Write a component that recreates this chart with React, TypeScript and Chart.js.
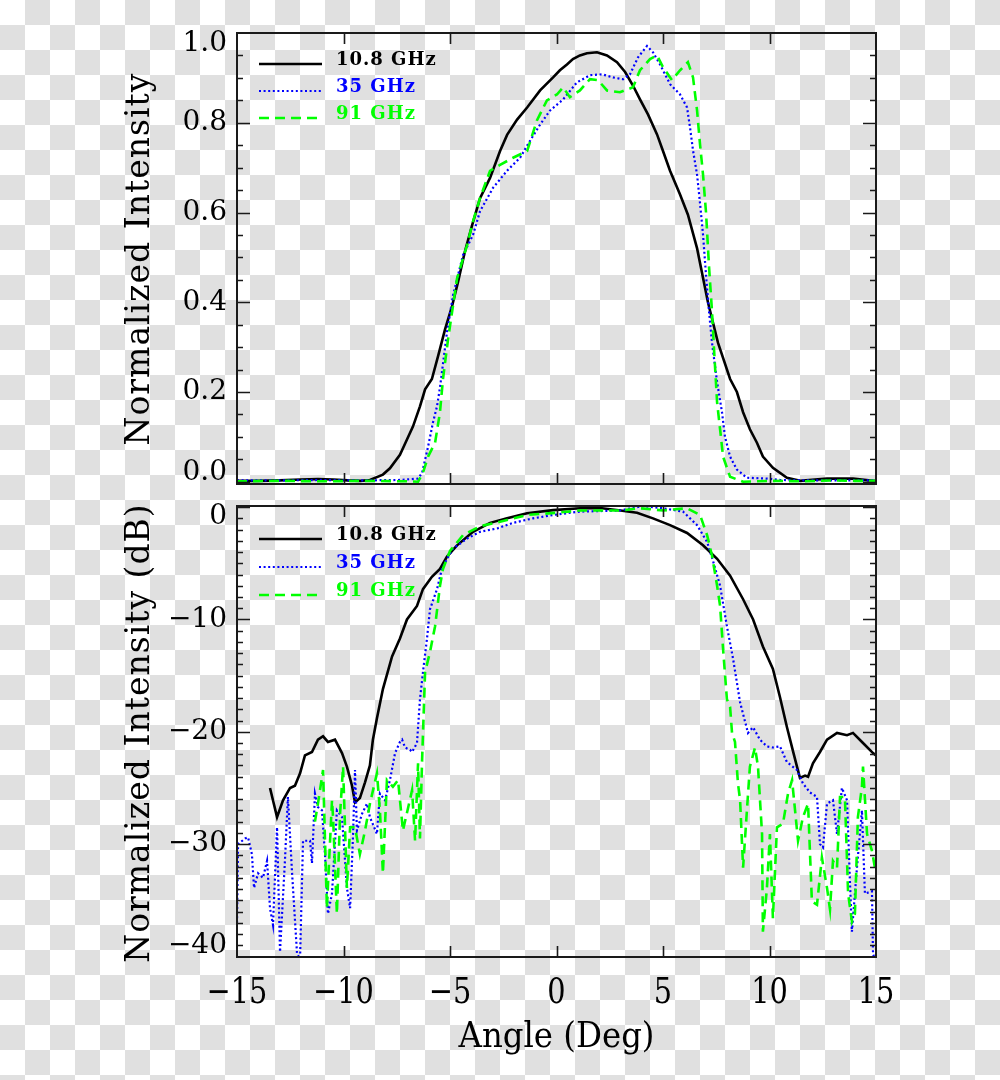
import React, { useEffect, useRef } from "react";
import { Chart, registerables } from "chart.js";
Chart.register(...registerables);

// ---------- axes ----------
const X_MIN = -15;
const X_MAX = 15;
const angleTicks = [-15, -10, -5, 0, 5, 10, 15];
const topTicks = [0, 0.2, 0.4, 0.6, 0.8, 1.0];
const dbTicks = [0, -10, -20, -30, -40];
const seriesLabels = ["10.8 GHz", "35 GHz", "91 GHz"];
const xTitle = "Angle (Deg)";
const topTitle = "Normalized Intensity";
const botTitle = "Normalized Intensity (dB)";

// ---------- top panel (linear) ----------
const top10Ang = [-15, -14, -13, -12, -11.2, -10.5, -9.8, -9.2, -8.76, -8.15, -7.82, -7.35, -7.02, -6.74, -6.41, -6.17, -5.85, -5.56, -5.23, -4.91, -4.62, -4.3, -3.97, -3.59, -3.12, -2.65, -2.32, -1.85, -1.38, -0.77, -0.16, 0.16, 0.49, 0.77, 1.1, 1.43, 1.9, 2.37, 2.84, 3.22, 3.59, 3.92, 4.3, 4.72, 5.0, 5.33, 5.8, 6.17, 6.6, 7.11, 7.58, 8.15, 8.47, 8.76, 9.08, 9.41, 9.69, 10.16, 10.82, 11.43, 12.7, 13.92, 14.86, 15];
const top10Val = [0.002, 0.002, 0.003, 0.005, 0.006, 0.005, 0.003, 0.002, 0.004, 0.016, 0.03, 0.06, 0.094, 0.123, 0.168, 0.206, 0.229, 0.28, 0.34, 0.39, 0.446, 0.513, 0.57, 0.632, 0.677, 0.737, 0.773, 0.807, 0.834, 0.872, 0.901, 0.917, 0.93, 0.942, 0.95, 0.955, 0.957, 0.95, 0.935, 0.913, 0.883, 0.852, 0.818, 0.774, 0.737, 0.693, 0.64, 0.595, 0.52, 0.4, 0.31, 0.229, 0.2, 0.155, 0.117, 0.087, 0.056, 0.031, 0.009, 0.002, 0.007, 0.007, 0.002, 0.002];

const top35Ang = [-15, -13, -11, -9, -7.35, -6.5, -6.31, -6.17, -6.03, -5.8, -5.61, -5.47, -5.14, -4.86, -4.39, -3.92, -3.59, -2.98, -2.32, -1.71, -1.24, -0.77, -0.31, 0.31, 0.96, 1.57, 2.14, 2.65, 3.12, 3.45, 3.83, 4.25, 4.53, 4.86, 5.33, 5.8, 6.13, 6.27, 6.41, 6.6, 6.74, 6.88, 7.02, 7.16, 7.3, 7.54, 7.77, 7.91, 8.15, 8.47, 8.94, 9.88, 10.49, 12, 13.5, 15];
const top35Val = [0.003, 0.003, 0.004, 0.003, 0.004, 0.007, 0.02, 0.049, 0.078, 0.132, 0.168, 0.21, 0.334, 0.415, 0.505, 0.55, 0.603, 0.655, 0.693, 0.722, 0.76, 0.796, 0.827, 0.852, 0.89, 0.906, 0.908, 0.901, 0.897, 0.908, 0.946, 0.971, 0.957, 0.93, 0.886, 0.863, 0.834, 0.789, 0.738, 0.684, 0.62, 0.55, 0.46, 0.38, 0.31, 0.222, 0.155, 0.1, 0.056, 0.027, 0.009, 0.007, 0.004, 0.003, 0.003, 0.003];

const top91Ang = [-15, -13, -11, -9, -7, -6.5, -6.27, -6.03, -5.7, -5.47, -5.33, -5.09, -4.67, -4.2, -3.92, -3.59, -3.12, -2.65, -2.04, -1.38, -0.92, -0.45, 0.02, 0.31, 0.63, 1.1, 1.57, 1.95, 2.37, 2.98, 3.59, 3.92, 4.39, 4.72, 5.0, 5.42, 5.8, 6.17, 6.41, 6.6, 6.74, 6.88, 7.02, 7.16, 7.3, 7.39, 7.54, 7.68, 7.82, 8.15, 8.76, 10, 11.5, 13, 14, 15];
const top91Val = [0.001, 0.002, 0.001, 0.002, 0.001, 0.0, 0.02, 0.056, 0.087, 0.155, 0.229, 0.318, 0.453, 0.527, 0.58, 0.632, 0.693, 0.706, 0.722, 0.737, 0.805, 0.85, 0.863, 0.879, 0.857, 0.872, 0.897, 0.895, 0.872, 0.868, 0.879, 0.917, 0.942, 0.95, 0.924, 0.895, 0.917, 0.935, 0.901, 0.827, 0.751, 0.684, 0.6, 0.48, 0.38, 0.3, 0.177, 0.117, 0.056, 0.011, 0.0, 0.002, 0.001, 0.003, 0.002, 0.002];

// ---------- bottom panel (dB) ----------
const db10Ang = [-13.45, -13.12, -12.84, -12.51, -12.28, -12.04, -11.81, -11.48, -11.2, -10.96, -10.73, -10.4, -10.07, -9.84, -9.6, -9.46, -9.23, -8.99, -8.76, -8.62, -8.43, -8.15, -7.72, -7.35, -7.02, -6.55, -6.27, -5.85, -5.47, -5.14, -4.67, -3.92, -3.12, -2.32, -1.38, -0.16, 1.1, 2.14, 3.0, 3.78, 4.53, 5.33, 6.13, 6.88, 7.54, 8.15, 8.76, 9.23, 9.69, 10.16, 10.49, 10.82, 11.1, 11.29, 11.43, 11.67, 11.81, 12.04, 12.37, 12.7, 13.17, 13.64, 13.92, 14.39, 14.86, 15];
const db10Val = [-25, -27.6, -26.1, -25, -24.8, -23.7, -22.1, -21.8, -20.7, -20.4, -20.9, -20.7, -21.9, -23.1, -24.8, -26.3, -25.9, -24.5, -23, -20.7, -18.8, -16.2, -13.3, -11.7, -10, -8.8, -7.3, -6.2, -5.5, -4.4, -3.4, -2.2, -1.4, -1, -0.54, -0.27, -0.1, -0.1, -0.3, -0.5, -1, -1.6, -2.3, -3.4, -4.6, -6.1, -8.2, -10, -12.4, -14.4, -16.9, -19.6, -21.7, -23.1, -24.1, -23.9, -24, -22.8, -21.8, -20.7, -20.1, -20.3, -20.1, -21, -21.9, -22.1];

const db35Ang = [-15, -14.95, -14.62, -14.48, -14.3, -14.2, -14.01, -13.78, -13.59, -13.45, -13.31, -13.12, -12.98, -12.75, -12.61, -12.42, -12.18, -12.04, -11.9, -11.57, -11.48, -11.34, -11.2, -11.01, -10.87, -10.73, -10.54, -10.31, -10.07, -9.84, -9.69, -9.55, -9.46, -9.37, -9.13, -8.9, -8.76, -8.43, -8.29, -8.05, -7.82, -7.58, -7.35, -7.25, -7.11, -6.88, -6.78, -6.55, -6.41, -6.27, -6.08, -5.94, -5.61, -5.38, -5.14, -4.86, -4.2, -3.59, -2.79, -2.04, -1.1, -0.16, 1.1, 2.98, 4.06, 5.0, 5.94, 6.6, 7.07, 7.35, 7.68, 8.0, 8.29, 8.62, 8.99, 9.23, 9.55, 9.88, 10.16, 10.49, 10.82, 11.29, 11.57, 11.9, 12.23, 12.37, 12.51, 12.7, 12.98, 13.17, 13.4, 13.64, 13.78, 13.87, 14.11, 14.34, 14.48, 14.81, 14.86, 14.95, 15];
const db35Val = [-37, -30, -29.5, -29.4, -30.9, -33.9, -32.6, -33, -31.5, -35.7, -37.2, -28.5, -39.6, -31.5, -25.8, -32.4, -39.8, -40.2, -29.7, -29.7, -31.7, -25.5, -26.7, -27, -30.9, -36.2, -34.4, -27, -27.6, -33.9, -35.7, -29.1, -23.4, -28.8, -27.3, -26.4, -27.6, -29.1, -25.5, -26.1, -24.3, -21.9, -20.9, -20.7, -21.4, -21.6, -21.8, -21.0, -17.1, -14.7, -11.7, -9.1, -7.3, -5.5, -4.6, -3.7, -2.8, -2.2, -1.9, -1.4, -1.0, -0.7, -0.4, -0.3, 0.1, -0.1, -0.4, -1.6, -3.1, -4.8, -7.0, -10.6, -13.5, -17.4, -20.1, -19.6, -20.7, -21.3, -21.4, -21.3, -22.7, -23.4, -24.6, -25.4, -25.8, -30.0, -30.3, -26.4, -26.1, -29.1, -25.0, -26.1, -33.5, -37.8, -32.0, -27.0, -34.4, -34.2, -39.8, -40.2, -41];

const db91Ang = [-11.34, -11.2, -10.96, -10.78, -10.54, -10.49, -10.31, -10.16, -10.02, -9.84, -9.69, -9.46, -9.23, -8.99, -8.76, -8.43, -8.29, -8.15, -7.96, -7.68, -7.44, -7.21, -6.78, -6.64, -6.5, -6.41, -6.31, -6.17, -5.94, -5.7, -5.47, -5.33, -5.0, -4.39, -3.59, -2.65, -1.38, 0.02, 1.1, 3.0, 3.92, 5.0, 6.13, 6.74, 7.07, 7.3, 7.54, 7.68, 7.82, 8.0, 8.15, 8.24, 8.38, 8.52, 8.62, 8.76, 8.94, 9.08, 9.32, 9.46, 9.65, 9.69, 9.88, 10.02, 10.16, 10.35, 10.63, 10.87, 11.06, 11.34, 11.57, 11.81, 11.99, 12.23, 12.46, 12.7, 12.84, 12.98, 13.17, 13.31, 13.54, 13.69, 13.87, 14.01, 14.15, 14.34, 14.39, 14.58, 14.81, 14.95];
const db91Val = [-28, -26.4, -23.4, -35.7, -26.1, -27.6, -36.2, -27.3, -23.1, -33.9, -28.5, -28.5, -30.9, -28.8, -26.4, -23.7, -27, -32.6, -24.3, -24.9, -24.3, -28.8, -25.2, -29.7, -22.8, -29.5, -22.5, -14.7, -12.9, -10.6, -7, -5.5, -3.9, -2.5, -1.7, -1.3, -0.7, -0.5, -0.3, -0.3, -0.1, -0.3, -0.1, -0.7, -2.5, -4.3, -7, -8.8, -12.6, -17.1, -17.8, -20.1, -20.9, -24.6, -26.1, -32.1, -27, -23.1, -21.4, -23.1, -29.1, -37.8, -33.9, -29.1, -36.6, -28.5, -28.2, -25.5, -24.3, -29.7, -27.6, -26.4, -35.1, -35.4, -31.2, -33.9, -35.8, -31.5, -32.1, -25.8, -25.8, -34.4, -36.9, -36.2, -27.6, -24.9, -23.1, -29.1, -30.6, -32.1];

// ---------- styles ----------
const COLORS = ["#000000", "#0000ff", "#00ff00"];
const WIDTHS = [2.6, 2.2, 2.6];
const DASHES: number[][] = [[], [2, 2.6], [10, 6]];
const SERIF = "'DejaVu Serif', serif";
const CHECKER = "repeating-conic-gradient(#e0e0e0 0% 25%, #ffffff 0% 50%) 0 0 / 50px 50px";

type PanelOpts = {
  yTicks: number[];
  yMinor: number;
  yMajor: number;
  yMin: number;
  yMax: number;
  yFmt: (v: number) => string;
  yTitle: string;
  titleCenterY: number;
  legendBase: number[];
  showX: boolean;
};

const xFmt = (v: number) => (v < 0 ? "\u2212" + Math.abs(v) : String(v));

function decorPlugin(o: PanelOpts) {
  return {
    id: "decor",
    afterDatasetsDraw(chart: any) {
      const ctx: CanvasRenderingContext2D = chart.ctx;
      const { left, right, top, bottom } = chart.chartArea;
      const xs = chart.scales.x;
      const ys = chart.scales.y;
      ctx.save();
      ctx.setLineDash([]);
      ctx.strokeStyle = "#1a1a1a";
      ctx.fillStyle = "#000";
      // frame
      ctx.lineWidth = 2;
      ctx.strokeRect(left, top, right - left, bottom - top);
      // x ticks (inward, top and bottom)
      ctx.lineWidth = 1.6;
      ctx.beginPath();
      for (const v of angleTicks) {
        if (v <= X_MIN || v >= X_MAX) continue;
        const px = Math.round(xs.getPixelForValue(v)) + 0.5;
        ctx.moveTo(px, bottom);
        ctx.lineTo(px, bottom - 11);
        ctx.moveTo(px, top);
        ctx.lineTo(px, top + 11);
      }
      // y ticks (inward, left and right)
      const start = Math.ceil(o.yMin / o.yMinor - 1e-6);
      const end = Math.floor(o.yMax / o.yMinor + 1e-6);
      for (let k = start; k <= end; k++) {
        const v = k * o.yMinor;
        const py = Math.round(ys.getPixelForValue(v)) + 0.5;
        if (py <= top + 1 || py >= bottom - 1) continue;
        const r = v / o.yMajor;
        const major = Math.abs(r - Math.round(r)) < 1e-6;
        const len = major ? 13 : 6;
        ctx.moveTo(left, py);
        ctx.lineTo(left + len, py);
        ctx.moveTo(right, py);
        ctx.lineTo(right - len, py);
      }
      ctx.stroke();

      // y tick labels
      ctx.font = "28px " + SERIF;
      ctx.textAlign = "right";
      ctx.textBaseline = "middle";
      for (const v of o.yTicks) {
        let py = ys.getPixelForValue(v);
        py = Math.min(Math.max(py, top + 11), bottom - 11);
        ctx.fillText(o.yFmt(v), left - 10, py);
      }

      // y title
      ctx.save();
      ctx.font = "33px " + SERIF;
      (ctx as any).letterSpacing = "1px";
      ctx.textAlign = "center";
      ctx.textBaseline = "alphabetic";
      ctx.translate(149, o.titleCenterY);
      ctx.rotate(-Math.PI / 2);
      ctx.fillText(o.yTitle, 0, 0);
      ctx.restore();

      // x labels + title
      if (o.showX) {
        ctx.font = "36px " + SERIF;
        ctx.textAlign = "center";
        ctx.textBaseline = "alphabetic";
        for (const v of angleTicks) {
          const px = xs.getPixelForValue(v);
          ctx.save();
          ctx.translate(px, bottom + 46);
          ctx.scale(0.8, 1);
          ctx.fillText(xFmt(v), 0, 0);
          ctx.restore();
        }
        ctx.save();
        ctx.translate((left + right) / 2, bottom + 90);
        ctx.scale(0.9, 1);
        ctx.fillText(xTitle, 0, 0);
        ctx.restore();
      }

      // legend
      ctx.font = "bold 18px " + SERIF;
      (ctx as any).letterSpacing = "1px";
      ctx.textAlign = "left";
      ctx.textBaseline = "alphabetic";
      seriesLabels.forEach((lab, i) => {
        const yb = o.legendBase[i];
        ctx.strokeStyle = COLORS[i];
        ctx.lineWidth = WIDTHS[i];
        ctx.setLineDash(DASHES[i]);
        ctx.beginPath();
        ctx.moveTo(259, yb - 1);
        ctx.lineTo(322, yb - 1);
        ctx.stroke();
        ctx.setLineDash([]);
        ctx.fillStyle = COLORS[i];
        ctx.fillText(lab, 336, yb);
      });
      (ctx as any).letterSpacing = "0px";
      ctx.restore();
    },
  };
}

function makeDatasets(angs: number[][], vals: number[][]) {
  return angs.map((a, s) => ({
    label: seriesLabels[s],
    data: a.map((x, i) => ({ x, y: vals[s][i] })),
    borderColor: COLORS[s],
    backgroundColor: COLORS[s],
    borderWidth: WIDTHS[s],
    borderDash: DASHES[s],
    pointRadius: 0,
    fill: false,
    tension: 0,
    order: 2 - s,
  }));
}

function makeConfig(datasets: any[], o: PanelOpts, pad: { top: number; bottom: number }) {
  return {
    type: "line" as const,
    data: { datasets },
    options: {
      responsive: false,
      maintainAspectRatio: false,
      animation: false as const,
      events: [] as any[],
      layout: { padding: { left: 237, right: 124, top: pad.top, bottom: pad.bottom } },
      plugins: {
        legend: { display: false },
        tooltip: { enabled: false },
        title: { display: false },
      },
      scales: {
        x: { type: "linear" as const, min: X_MIN, max: X_MAX, display: false },
        y: { type: "linear" as const, min: o.yMin, max: o.yMax, display: false },
      },
    },
    plugins: [decorPlugin(o)],
  };
}

export default function App() {
  const topRef = useRef<HTMLCanvasElement>(null);
  const botRef = useRef<HTMLCanvasElement>(null);

  useEffect(() => {
    const topOpts: PanelOpts = {
      yTicks: topTicks,
      yMinor: 0.05,
      yMajor: 0.2,
      yMin: -0.005,
      yMax: 1.0,
      yFmt: (v) => v.toFixed(1),
      yTitle: topTitle,
      titleCenterY: 259,
      legendBase: [65, 92, 119],
      showX: false,
    };
    const botOpts: PanelOpts = {
      yTicks: dbTicks,
      yMinor: 1,
      yMajor: 10,
      yMin: -40.05,
      yMax: 0.1,
      yFmt: (v) => (v === 0 ? "0" : "\u2212" + Math.abs(v)),
      yTitle: botTitle,
      titleCenterY: 733 - 490,
      legendBase: [540 - 490, 568 - 490, 596 - 490],
      showX: true,
    };
    const c1 = new Chart(
      topRef.current as HTMLCanvasElement,
      makeConfig(makeDatasets([top10Ang, top35Ang, top91Ang], [top10Val, top35Val, top91Val]), topOpts, { top: 33, bottom: 16 }) as any
    );
    const c2 = new Chart(
      botRef.current as HTMLCanvasElement,
      makeConfig(makeDatasets([db10Ang, db35Ang, db91Ang], [db10Val, db35Val, db91Val]), botOpts, { top: 16, bottom: 123 }) as any
    );
    return () => {
      c1.destroy();
      c2.destroy();
    };
  }, []);

  return (
    <div style={{ position: "fixed", left: 0, top: 0, width: 1000, height: 1080, background: CHECKER }}>
      <canvas ref={topRef} width={1000} height={500} style={{ position: "absolute", left: 0, top: 0, width: 1000, height: 500 }} />
      <canvas ref={botRef} width={1000} height={590} style={{ position: "absolute", left: 0, top: 490, width: 1000, height: 590 }} />
    </div>
  );
}
